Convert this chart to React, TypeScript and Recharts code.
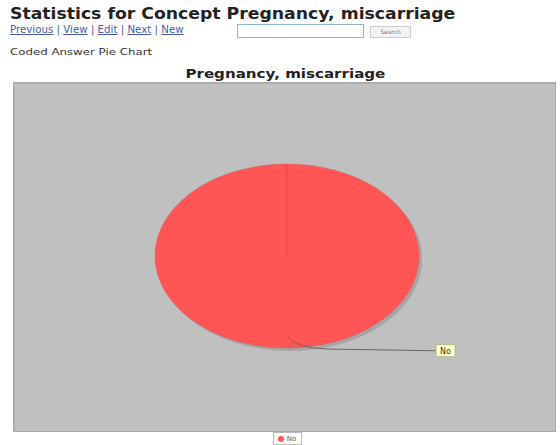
import React from 'react';
import { PieChart, Pie, Cell, Legend, Sector } from 'recharts';

const categories = ['No'];
const counts = [1];
const COLORS = ['#ff5555'];

const data = categories.map((name, i) => ({ name, value: counts[i] }));

const STRETCH = 1.435;

// the pie in the reference is stretched sideways, so scale each sector around the centre
function EllipseSector(props: any) {
  const { cx, cy } = props;
  const t = `translate(${cx},${cy}) scale(${STRETCH},1) translate(${-cx},${-cy})`;
  return (
    <g>
      <g transform={`translate(3,3) ${t}`}>
        <Sector {...props} fill="#8a8a8a" fillOpacity={0.5} stroke="none" />
      </g>
      <g transform={t}>
        <Sector {...props} stroke="#d04848" strokeWidth={0.6} strokeOpacity={0.4} />
      </g>
    </g>
  );
}

function SliceLabel(props: any) {
  const { cx, cy, midAngle, outerRadius, name } = props;
  const rad = (Math.PI / 180) * midAngle;
  const sx = cx + Math.cos(rad) * outerRadius * 0.87 * STRETCH;
  const sy = cy - Math.sin(rad) * outerRadius * 0.87;
  const ex = cx + outerRadius * 1.62;
  const ey = cy + outerRadius * 1.03;
  return (
    <g>
      <path
        d={`M${sx},${sy} Q${sx + 8},${sy + 12} ${sx + 40},${sy + 13} L${ex},${ey}`}
        fill="none"
        stroke="#686868"
        strokeWidth={1}
      />
      <rect x={ex} y={ey - 6} width={19} height={12} fill="#ffffc8" stroke="#b8b890" />
      <text x={ex + 9.5} y={ey + 3} textAnchor="middle" fontSize={8} fill="#333" fontFamily="DejaVu Sans">
        {name}
      </text>
    </g>
  );
}

function LegendBox(props: any) {
  const items = props.payload || [];
  return (
    <div style={{ display: 'flex', justifyContent: 'center' }}>
      <div style={{ display: 'flex', alignItems: 'center', border: '1px solid #bbb', padding: '0 5px 0 4px', height: 11, background: '#fff', marginLeft: 6 }}>
        {items.map((it: any) => (
          <span key={it.value} style={{ display: 'flex', alignItems: 'center', fontSize: 7, color: '#555', fontFamily: 'DejaVu Sans' }}>
            <span style={{ width: 6, height: 6, borderRadius: 3, background: it.color, marginRight: 3, display: 'inline-block' }} />
            {it.value}
          </span>
        ))}
      </div>
    </div>
  );
}

export default function App() {
  const font = '"DejaVu Sans", Verdana, sans-serif';
  return (
    <div style={{ position: 'absolute', left: 0, top: 0, width: 560, height: 445, background: '#fff', overflow: 'hidden', fontFamily: font }}>
      <div style={{ position: 'absolute', left: 10, top: 5, fontSize: 15, fontWeight: 'bold', color: '#222', transform: 'scaleX(1.15)', transformOrigin: 'left', whiteSpace: 'nowrap' }}>
        Statistics for Concept Pregnancy, miscarriage
      </div>
      <div style={{ position: 'absolute', left: 10, top: 24, fontSize: 10, color: '#4a5aa8', whiteSpace: 'nowrap', transform: 'scaleX(1.025)', transformOrigin: 'left' }}>
        <u>Previous</u> | <u>View</u> | <u>Edit</u> | <u>Next</u> | <u>New</u>
      </div>
      <div style={{ position: 'absolute', left: 237, top: 24, width: 125, height: 12, border: '1px solid #8fb4cc' }} />
      <div style={{ position: 'absolute', left: 370, top: 26, width: 39, height: 10, border: '1px solid #ccc', background: '#f4f4f4', fontSize: 6, color: '#777', textAlign: 'center', lineHeight: '10px' }}>
        Search
      </div>
      <div style={{ position: 'absolute', left: 10, top: 47, fontSize: 9, color: '#333', whiteSpace: 'nowrap', transform: 'scaleX(1.31)', transformOrigin: 'left' }}>
        Coded Answer Pie Chart
      </div>
      <div style={{ position: 'absolute', left: 13, top: 66, width: 543, textAlign: 'center', fontSize: 13, fontWeight: 'bold', color: '#222', transform: 'scaleX(1.16)', transformOrigin: '266px 0' }}>
        Pregnancy, miscarriage
      </div>
      <div style={{ position: 'absolute', left: 13, top: 82, width: 541, height: 348, background: '#c0c0c0', border: '1px solid #a8a8a8', boxShadow: 'inset 1px 1px 0 #b0b0b0' }} />
      <div style={{ position: 'absolute', left: 13, top: 82 }}>
        <PieChart width={543} height={363} margin={{ top: 0, right: 0, bottom: 0, left: 0 }}>
          <Pie
            data={data}
            dataKey="value"
            nameKey="name"
            cx={274}
            cy={174}
            outerRadius={92}
            startAngle={90}
            endAngle={450}
            shape={EllipseSector}
            label={SliceLabel}
            labelLine={false}
            isAnimationActive={false}
          >
            {data.map((entry, index) => (
              <Cell key={`cell-${index}`} fill={COLORS[index % COLORS.length]} />
            ))}
          </Pie>
          <Legend verticalAlign="bottom" height={13} content={LegendBox} />
        </PieChart>
      </div>
    </div>
  );
}
